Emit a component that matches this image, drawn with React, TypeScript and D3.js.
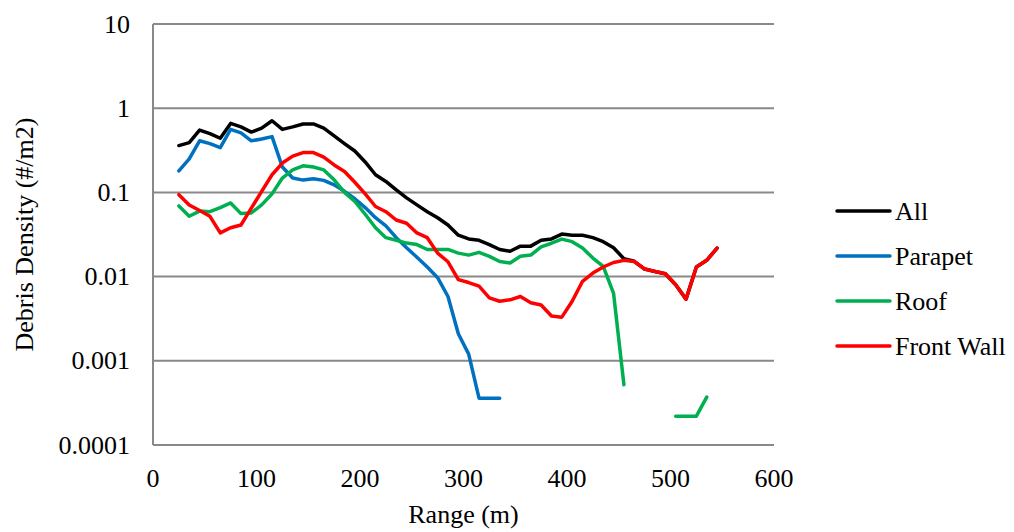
import React from 'react';
import * as d3 from 'd3';

// range bins (m)
const ranges = [25, 35, 45, 55, 65, 75, 85, 95, 105, 115, 125, 135, 145, 155, 165, 175, 185, 195,
  205, 215, 225, 235, 245, 255, 265, 275, 285, 295, 305, 315, 325, 335, 345, 355, 365, 375, 385,
  395, 405, 415, 425, 435, 445, 455, 465, 475, 485, 495, 505, 515, 525, 535, 545];

const allValues = [0.36, 0.39, 0.55, 0.50, 0.44, 0.66, 0.60, 0.52, 0.58, 0.71, 0.56, 0.60, 0.65, 0.65,
  0.58, 0.47, 0.38, 0.31, 0.23, 0.162, 0.135, 0.107, 0.086, 0.071, 0.059, 0.050, 0.041, 0.031, 0.028,
  0.027, 0.024, 0.021, 0.020, 0.023, 0.023, 0.027, 0.028, 0.032, 0.031, 0.031, 0.029, 0.026, 0.022,
  0.0163, 0.0152, 0.0123, 0.0115, 0.0108, 0.0080, 0.0054, 0.0130, 0.0156, 0.0218];

const parapetValues = [0.18, 0.25, 0.41, 0.38, 0.34, 0.56, 0.51, 0.41, 0.43, 0.46, 0.20, 0.148, 0.140,
  0.145, 0.139, 0.123, 0.103, 0.084, 0.066, 0.050, 0.040, 0.029, 0.022, 0.017, 0.013, 0.0097, 0.0058,
  0.0021, 0.0012, 0.00036, 0.00036, 0.00036, null, null, null, null, null, null, null, null, null, null,
  null, null, null, null, null, null, null, null, null, null, null];

const roofValues = [0.069, 0.052, 0.060, 0.059, 0.066, 0.075, 0.056, 0.057, 0.071, 0.096, 0.148, 0.185,
  0.207, 0.200, 0.185, 0.141, 0.10, 0.078, 0.055, 0.038, 0.029, 0.027, 0.025, 0.024, 0.021, 0.021, 0.021,
  0.019, 0.018, 0.0194, 0.0174, 0.0151, 0.0145, 0.0174, 0.018, 0.0226, 0.0249, 0.0279, 0.026, 0.0218,
  0.0166, 0.0132, 0.0063, 0.00052, null, null, null, null, 0.00022, 0.00022, 0.00022, 0.00037, null];

const frontWallValues = [0.094, 0.071, 0.061, 0.052, 0.033, 0.038, 0.041, 0.065, 0.103, 0.162, 0.223,
  0.27, 0.297, 0.297, 0.262, 0.212, 0.177, 0.132, 0.096, 0.068, 0.059, 0.047, 0.043, 0.033, 0.029,
  0.019, 0.015, 0.0092, 0.0085, 0.0077, 0.0056, 0.0051, 0.0053, 0.0058, 0.0049, 0.0046, 0.0034, 0.0033,
  0.0051, 0.0088, 0.011, 0.013, 0.0147, 0.0156, 0.0151, 0.0123, 0.0115, 0.0108, 0.0080, 0.0054, 0.0130,
  0.0156, 0.0218];

const seriesNames = ['All', 'Parapet', 'Roof', 'Front Wall'];
const seriesColors = ['#000000', '#0070C0', '#00B050', '#FF0000'];
const seriesValues = [allValues, parapetValues, roofValues, frontWallValues];

const yTicks = [0.0001, 0.001, 0.01, 0.1, 1, 10];
const yTickLabels = ['0.0001', '0.001', '0.01', '0.1', '1', '10'];
const xTicks = [0, 100, 200, 300, 400, 500, 600];

export default function App() {
  const width = 1014;
  const height = 532;
  const left = 153, right = 774, top = 24, bottom = 445;
  const font = "'Liberation Serif', 'Times New Roman', serif";
  const grid = '#898989';

  const x = d3.scaleLinear().domain([0, 600]).range([left, right]);
  const y = d3.scaleLog().domain([0.0001, 10]).range([bottom, top]);

  const line = d3.line<[number, number | null]>()
    .defined(d => d[1] != null)
    .x(d => x(d[0]))
    .y(d => y(d[1] as number));

  return (
    <svg width={width} height={height} style={{ position: 'absolute', left: 0, top: 0 }}
      fontFamily={font}>
      <rect width={width} height={height} fill="#ffffff" />
      {/* gridlines */}
      {yTicks.map((t, i) => (
        <line key={'g' + i} x1={left} x2={right} y1={y(t)} y2={y(t)} stroke={grid} strokeWidth={2} />
      ))}
      <line x1={left} x2={left} y1={top} y2={bottom} stroke={grid} strokeWidth={2} />

      {/* y tick labels */}
      {yTicks.map((t, i) => (
        <text key={'yl' + i} x={130} y={y(t)} dy="0.33em" textAnchor="end" fontSize={26} fill="#000">
          {yTickLabels[i]}
        </text>
      ))}
      {/* x tick labels */}
      {xTicks.map(t => (
        <text key={'xl' + t} x={x(t)} y={487} textAnchor="middle" fontSize={26} fill="#000">{t}</text>
      ))}

      <text x={(left + right) / 2} y={523} textAnchor="middle" fontSize={26} fill="#000">Range (m)</text>
      <text transform={`translate(33,${(top + bottom) / 2}) rotate(-90)`} textAnchor="middle"
        fontSize={26} fill="#000">Debris Density (#/m2)</text>

      {/* series */}
      {seriesValues.map((vals, i) => (
        <path key={'s' + i}
          d={line(ranges.map((r, j) => [r, vals[j]] as [number, number | null])) || ''}
          fill="none" stroke={seriesColors[i]} strokeWidth={3.5}
          strokeLinejoin="round" strokeLinecap="round" />
      ))}

      {/* legend */}
      {seriesNames.map((name, i) => {
        const ly = 211 + i * 45;
        return (
          <g key={'lg' + i}>
            <line x1={837} x2={890} y1={ly} y2={ly} stroke={seriesColors[i]} strokeWidth={3.5}
              strokeLinecap="round" />
            <text x={895} y={ly + 8.5} fontSize={26} fill="#000">{name}</text>
          </g>
        );
      })}
    </svg>
  );
}
